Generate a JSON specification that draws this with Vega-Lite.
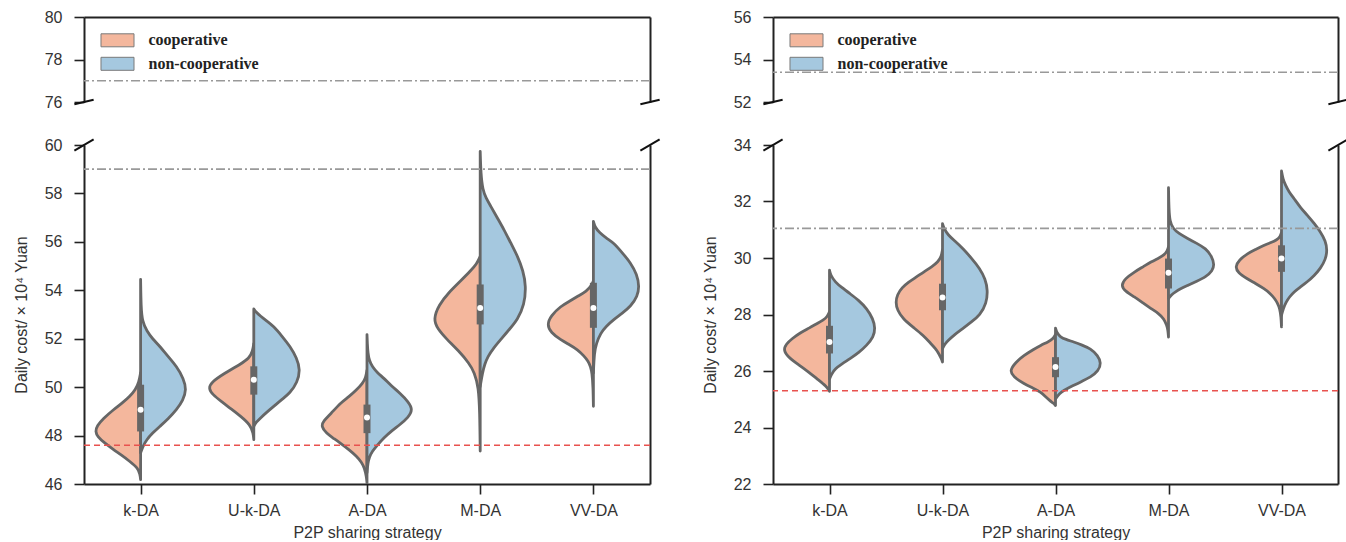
{
"$schema": "https://vega.github.io/schema/vega-lite/v6.json",
"padding": {"left": 13, "top": 9, "right": 5, "bottom": 0},
"background": "white",
"data": {"values": [{}]},
"datasets": {
"vl": [
{"s":"k-DA","g":"cooperative","y":46.18,"d":0},{"s":"k-DA","g":"cooperative","y":46.4,"d":0.005},{"s":"k-DA","g":"cooperative","y":46.66,"d":0.025},{"s":"k-DA","g":"cooperative","y":46.93,"d":0.094},{"s":"k-DA","g":"cooperative","y":47.2,"d":0.17},{"s":"k-DA","g":"cooperative","y":47.42,"d":0.24},{"s":"k-DA","g":"cooperative","y":47.7,"d":0.32},{"s":"k-DA","g":"cooperative","y":47.95,"d":0.38},{"s":"k-DA","g":"cooperative","y":48.17,"d":0.4},{"s":"k-DA","g":"cooperative","y":48.4,"d":0.385},{"s":"k-DA","g":"cooperative","y":48.7,"d":0.33},{"s":"k-DA","g":"cooperative","y":49.07,"d":0.24},{"s":"k-DA","g":"cooperative","y":49.35,"d":0.16},{"s":"k-DA","g":"cooperative","y":49.62,"d":0.094},{"s":"k-DA","g":"cooperative","y":49.9,"d":0.045},{"s":"k-DA","g":"cooperative","y":50.2,"d":0.015},{"s":"k-DA","g":"cooperative","y":50.6,"d":0},
{"s":"k-DA","g":"non-cooperative","y":47.28,"d":0},{"s":"k-DA","g":"non-cooperative","y":47.55,"d":0.02},{"s":"k-DA","g":"non-cooperative","y":47.83,"d":0.053},{"s":"k-DA","g":"non-cooperative","y":48.1,"d":0.105},{"s":"k-DA","g":"non-cooperative","y":48.38,"d":0.17},{"s":"k-DA","g":"non-cooperative","y":48.7,"d":0.245},{"s":"k-DA","g":"non-cooperative","y":49.07,"d":0.318},{"s":"k-DA","g":"non-cooperative","y":49.45,"d":0.375},{"s":"k-DA","g":"non-cooperative","y":49.9,"d":0.405},{"s":"k-DA","g":"non-cooperative","y":50.35,"d":0.38},{"s":"k-DA","g":"non-cooperative","y":50.86,"d":0.318},{"s":"k-DA","g":"non-cooperative","y":51.25,"d":0.245},{"s":"k-DA","g":"non-cooperative","y":51.69,"d":0.17},{"s":"k-DA","g":"non-cooperative","y":52.0,"d":0.105},{"s":"k-DA","g":"non-cooperative","y":52.31,"d":0.055},{"s":"k-DA","g":"non-cooperative","y":52.72,"d":0.015},{"s":"k-DA","g":"non-cooperative","y":53.3,"d":0.004},{"s":"k-DA","g":"non-cooperative","y":54.45,"d":0},
{"s":"U-k-DA","g":"cooperative","y":47.83,"d":0},{"s":"U-k-DA","g":"cooperative","y":48.1,"d":0.005},{"s":"U-k-DA","g":"cooperative","y":48.44,"d":0.03},{"s":"U-k-DA","g":"cooperative","y":48.8,"d":0.117},{"s":"U-k-DA","g":"cooperative","y":49.1,"d":0.2},{"s":"U-k-DA","g":"cooperative","y":49.4,"d":0.285},{"s":"U-k-DA","g":"cooperative","y":49.7,"d":0.365},{"s":"U-k-DA","g":"cooperative","y":49.95,"d":0.4},{"s":"U-k-DA","g":"cooperative","y":50.2,"d":0.375},{"s":"U-k-DA","g":"cooperative","y":50.57,"d":0.26},{"s":"U-k-DA","g":"cooperative","y":50.95,"d":0.117},{"s":"U-k-DA","g":"cooperative","y":51.19,"d":0.04},{"s":"U-k-DA","g":"cooperative","y":51.5,"d":0.01},{"s":"U-k-DA","g":"cooperative","y":51.8,"d":0},
{"s":"U-k-DA","g":"non-cooperative","y":48.38,"d":0},{"s":"U-k-DA","g":"non-cooperative","y":48.55,"d":0.02},{"s":"U-k-DA","g":"non-cooperative","y":48.73,"d":0.06},{"s":"U-k-DA","g":"non-cooperative","y":48.97,"d":0.115},{"s":"U-k-DA","g":"non-cooperative","y":49.21,"d":0.177},{"s":"U-k-DA","g":"non-cooperative","y":49.5,"d":0.25},{"s":"U-k-DA","g":"non-cooperative","y":49.76,"d":0.32},{"s":"U-k-DA","g":"non-cooperative","y":50.2,"d":0.385},{"s":"U-k-DA","g":"non-cooperative","y":50.72,"d":0.41},{"s":"U-k-DA","g":"non-cooperative","y":51.2,"d":0.38},{"s":"U-k-DA","g":"non-cooperative","y":51.69,"d":0.32},{"s":"U-k-DA","g":"non-cooperative","y":52.1,"d":0.25},{"s":"U-k-DA","g":"non-cooperative","y":52.51,"d":0.177},{"s":"U-k-DA","g":"non-cooperative","y":52.75,"d":0.11},{"s":"U-k-DA","g":"non-cooperative","y":52.93,"d":0.06},{"s":"U-k-DA","g":"non-cooperative","y":53.1,"d":0.02},{"s":"U-k-DA","g":"non-cooperative","y":53.23,"d":0},
{"s":"A-DA","g":"cooperative","y":46.04,"d":0},{"s":"A-DA","g":"cooperative","y":46.3,"d":0.005},{"s":"A-DA","g":"cooperative","y":46.66,"d":0.022},{"s":"A-DA","g":"cooperative","y":46.9,"d":0.048},{"s":"A-DA","g":"cooperative","y":47.14,"d":0.09},{"s":"A-DA","g":"cooperative","y":47.42,"d":0.16},{"s":"A-DA","g":"cooperative","y":47.69,"d":0.235},{"s":"A-DA","g":"cooperative","y":47.9,"d":0.3},{"s":"A-DA","g":"cooperative","y":48.1,"d":0.36},{"s":"A-DA","g":"cooperative","y":48.38,"d":0.405},{"s":"A-DA","g":"cooperative","y":48.6,"d":0.385},{"s":"A-DA","g":"cooperative","y":48.9,"d":0.32},{"s":"A-DA","g":"cooperative","y":49.35,"d":0.235},{"s":"A-DA","g":"cooperative","y":49.6,"d":0.16},{"s":"A-DA","g":"cooperative","y":49.9,"d":0.09},{"s":"A-DA","g":"cooperative","y":50.15,"d":0.04},{"s":"A-DA","g":"cooperative","y":50.38,"d":0.012},{"s":"A-DA","g":"cooperative","y":50.7,"d":0},
{"s":"A-DA","g":"non-cooperative","y":46.47,"d":0},{"s":"A-DA","g":"non-cooperative","y":46.87,"d":0.008},{"s":"A-DA","g":"non-cooperative","y":47.1,"d":0.02},{"s":"A-DA","g":"non-cooperative","y":47.35,"d":0.046},{"s":"A-DA","g":"non-cooperative","y":47.6,"d":0.09},{"s":"A-DA","g":"non-cooperative","y":47.9,"d":0.147},{"s":"A-DA","g":"non-cooperative","y":48.2,"d":0.22},{"s":"A-DA","g":"non-cooperative","y":48.45,"d":0.29},{"s":"A-DA","g":"non-cooperative","y":48.75,"d":0.365},{"s":"A-DA","g":"non-cooperative","y":49.07,"d":0.405},{"s":"A-DA","g":"non-cooperative","y":49.4,"d":0.365},{"s":"A-DA","g":"non-cooperative","y":49.76,"d":0.29},{"s":"A-DA","g":"non-cooperative","y":50.05,"d":0.215},{"s":"A-DA","g":"non-cooperative","y":50.38,"d":0.147},{"s":"A-DA","g":"non-cooperative","y":50.6,"d":0.09},{"s":"A-DA","g":"non-cooperative","y":50.86,"d":0.046},{"s":"A-DA","g":"non-cooperative","y":51.1,"d":0.02},{"s":"A-DA","g":"non-cooperative","y":51.41,"d":0.008},{"s":"A-DA","g":"non-cooperative","y":51.8,"d":0.003},{"s":"A-DA","g":"non-cooperative","y":52.17,"d":0},
{"s":"M-DA","g":"cooperative","y":47.36,"d":0},{"s":"M-DA","g":"cooperative","y":49.0,"d":0.004},{"s":"M-DA","g":"cooperative","y":50.0,"d":0.015},{"s":"M-DA","g":"cooperative","y":50.6,"d":0.05},{"s":"M-DA","g":"cooperative","y":51.0,"d":0.1},{"s":"M-DA","g":"cooperative","y":51.5,"d":0.19},{"s":"M-DA","g":"cooperative","y":52.0,"d":0.3},{"s":"M-DA","g":"cooperative","y":52.4,"d":0.375},{"s":"M-DA","g":"cooperative","y":52.8,"d":0.415},{"s":"M-DA","g":"cooperative","y":53.4,"d":0.365},{"s":"M-DA","g":"cooperative","y":53.9,"d":0.28},{"s":"M-DA","g":"cooperative","y":54.4,"d":0.17},{"s":"M-DA","g":"cooperative","y":54.8,"d":0.085},{"s":"M-DA","g":"cooperative","y":55.1,"d":0.03},{"s":"M-DA","g":"cooperative","y":55.4,"d":0},
{"s":"M-DA","g":"non-cooperative","y":50.03,"d":0},{"s":"M-DA","g":"non-cooperative","y":50.59,"d":0.02},{"s":"M-DA","g":"non-cooperative","y":50.95,"d":0.04},{"s":"M-DA","g":"non-cooperative","y":51.27,"d":0.068},{"s":"M-DA","g":"non-cooperative","y":51.6,"d":0.115},{"s":"M-DA","g":"non-cooperative","y":51.96,"d":0.18},{"s":"M-DA","g":"non-cooperative","y":52.4,"d":0.26},{"s":"M-DA","g":"non-cooperative","y":52.79,"d":0.33},{"s":"M-DA","g":"non-cooperative","y":53.4,"d":0.39},{"s":"M-DA","g":"non-cooperative","y":54.17,"d":0.405},{"s":"M-DA","g":"non-cooperative","y":54.8,"d":0.38},{"s":"M-DA","g":"non-cooperative","y":55.41,"d":0.33},{"s":"M-DA","g":"non-cooperative","y":55.95,"d":0.27},{"s":"M-DA","g":"non-cooperative","y":56.51,"d":0.21},{"s":"M-DA","g":"non-cooperative","y":57.0,"d":0.15},{"s":"M-DA","g":"non-cooperative","y":57.47,"d":0.094},{"s":"M-DA","g":"non-cooperative","y":57.8,"d":0.052},{"s":"M-DA","g":"non-cooperative","y":58.16,"d":0.022},{"s":"M-DA","g":"non-cooperative","y":58.8,"d":0.006},{"s":"M-DA","g":"non-cooperative","y":59.74,"d":0},
{"s":"VV-DA","g":"cooperative","y":49.21,"d":0},{"s":"VV-DA","g":"cooperative","y":50.0,"d":0.003},{"s":"VV-DA","g":"cooperative","y":50.59,"d":0.012},{"s":"VV-DA","g":"cooperative","y":50.85,"d":0.025},{"s":"VV-DA","g":"cooperative","y":51.07,"d":0.045},{"s":"VV-DA","g":"cooperative","y":51.3,"d":0.085},{"s":"VV-DA","g":"cooperative","y":51.55,"d":0.14},{"s":"VV-DA","g":"cooperative","y":51.75,"d":0.21},{"s":"VV-DA","g":"cooperative","y":51.96,"d":0.29},{"s":"VV-DA","g":"cooperative","y":52.25,"d":0.375},{"s":"VV-DA","g":"cooperative","y":52.58,"d":0.41},{"s":"VV-DA","g":"cooperative","y":52.95,"d":0.375},{"s":"VV-DA","g":"cooperative","y":53.34,"d":0.29},{"s":"VV-DA","g":"cooperative","y":53.55,"d":0.21},{"s":"VV-DA","g":"cooperative","y":53.75,"d":0.14},{"s":"VV-DA","g":"cooperative","y":53.96,"d":0.06},{"s":"VV-DA","g":"cooperative","y":54.2,"d":0.015},{"s":"VV-DA","g":"cooperative","y":54.4,"d":0},
{"s":"VV-DA","g":"non-cooperative","y":50.59,"d":0},{"s":"VV-DA","g":"non-cooperative","y":51.41,"d":0.008},{"s":"VV-DA","g":"non-cooperative","y":51.8,"d":0.025},{"s":"VV-DA","g":"non-cooperative","y":52.24,"d":0.065},{"s":"VV-DA","g":"non-cooperative","y":52.5,"d":0.11},{"s":"VV-DA","g":"non-cooperative","y":52.79,"d":0.18},{"s":"VV-DA","g":"non-cooperative","y":53.05,"d":0.255},{"s":"VV-DA","g":"non-cooperative","y":53.34,"d":0.33},{"s":"VV-DA","g":"non-cooperative","y":53.75,"d":0.39},{"s":"VV-DA","g":"non-cooperative","y":54.17,"d":0.405},{"s":"VV-DA","g":"non-cooperative","y":54.65,"d":0.385},{"s":"VV-DA","g":"non-cooperative","y":55.13,"d":0.33},{"s":"VV-DA","g":"non-cooperative","y":55.55,"d":0.255},{"s":"VV-DA","g":"non-cooperative","y":55.96,"d":0.18},{"s":"VV-DA","g":"non-cooperative","y":56.15,"d":0.115},{"s":"VV-DA","g":"non-cooperative","y":56.37,"d":0.055},{"s":"VV-DA","g":"non-cooperative","y":56.6,"d":0.015},{"s":"VV-DA","g":"non-cooperative","y":56.85,"d":0}
],
"vr": [
{"s":"k-DA","g":"cooperative","y":25.28,"d":0},{"s":"k-DA","g":"cooperative","y":25.45,"d":0.025},{"s":"k-DA","g":"cooperative","y":25.72,"d":0.11},{"s":"k-DA","g":"cooperative","y":25.95,"d":0.18},{"s":"k-DA","g":"cooperative","y":26.2,"d":0.265},{"s":"k-DA","g":"cooperative","y":26.45,"d":0.355},{"s":"k-DA","g":"cooperative","y":26.73,"d":0.41},{"s":"k-DA","g":"cooperative","y":26.95,"d":0.385},{"s":"k-DA","g":"cooperative","y":27.15,"d":0.33},{"s":"k-DA","g":"cooperative","y":27.35,"d":0.26},{"s":"k-DA","g":"cooperative","y":27.52,"d":0.18},{"s":"k-DA","g":"cooperative","y":27.68,"d":0.11},{"s":"k-DA","g":"cooperative","y":27.8,"d":0.055},{"s":"k-DA","g":"cooperative","y":27.92,"d":0.02},{"s":"k-DA","g":"cooperative","y":28.1,"d":0},
{"s":"k-DA","g":"non-cooperative","y":25.72,"d":0},{"s":"k-DA","g":"non-cooperative","y":25.9,"d":0.02},{"s":"k-DA","g":"non-cooperative","y":26.08,"d":0.05},{"s":"k-DA","g":"non-cooperative","y":26.25,"d":0.11},{"s":"k-DA","g":"non-cooperative","y":26.43,"d":0.18},{"s":"k-DA","g":"non-cooperative","y":26.65,"d":0.26},{"s":"k-DA","g":"non-cooperative","y":26.91,"d":0.33},{"s":"k-DA","g":"non-cooperative","y":27.2,"d":0.39},{"s":"k-DA","g":"non-cooperative","y":27.52,"d":0.405},{"s":"k-DA","g":"non-cooperative","y":27.85,"d":0.385},{"s":"k-DA","g":"non-cooperative","y":28.21,"d":0.33},{"s":"k-DA","g":"non-cooperative","y":28.5,"d":0.26},{"s":"k-DA","g":"non-cooperative","y":28.74,"d":0.18},{"s":"k-DA","g":"non-cooperative","y":28.95,"d":0.11},{"s":"k-DA","g":"non-cooperative","y":29.15,"d":0.05},{"s":"k-DA","g":"non-cooperative","y":29.39,"d":0.01},{"s":"k-DA","g":"non-cooperative","y":29.57,"d":0},
{"s":"U-k-DA","g":"cooperative","y":26.32,"d":0},{"s":"U-k-DA","g":"cooperative","y":26.43,"d":0.01},{"s":"U-k-DA","g":"cooperative","y":26.6,"d":0.03},{"s":"U-k-DA","g":"cooperative","y":26.79,"d":0.06},{"s":"U-k-DA","g":"cooperative","y":27.0,"d":0.11},{"s":"U-k-DA","g":"cooperative","y":27.26,"d":0.17},{"s":"U-k-DA","g":"cooperative","y":27.55,"d":0.26},{"s":"U-k-DA","g":"cooperative","y":27.85,"d":0.35},{"s":"U-k-DA","g":"cooperative","y":28.15,"d":0.4},{"s":"U-k-DA","g":"cooperative","y":28.44,"d":0.415},{"s":"U-k-DA","g":"cooperative","y":28.7,"d":0.4},{"s":"U-k-DA","g":"cooperative","y":28.95,"d":0.36},{"s":"U-k-DA","g":"cooperative","y":29.15,"d":0.3},{"s":"U-k-DA","g":"cooperative","y":29.33,"d":0.23},{"s":"U-k-DA","g":"cooperative","y":29.51,"d":0.165},{"s":"U-k-DA","g":"cooperative","y":29.7,"d":0.09},{"s":"U-k-DA","g":"cooperative","y":29.86,"d":0.04},{"s":"U-k-DA","g":"cooperative","y":30.05,"d":0.01},{"s":"U-k-DA","g":"cooperative","y":30.3,"d":0},
{"s":"U-k-DA","g":"non-cooperative","y":26.79,"d":0},{"s":"U-k-DA","g":"non-cooperative","y":26.95,"d":0.02},{"s":"U-k-DA","g":"non-cooperative","y":27.08,"d":0.05},{"s":"U-k-DA","g":"non-cooperative","y":27.3,"d":0.11},{"s":"U-k-DA","g":"non-cooperative","y":27.5,"d":0.18},{"s":"U-k-DA","g":"non-cooperative","y":27.75,"d":0.26},{"s":"U-k-DA","g":"non-cooperative","y":27.97,"d":0.33},{"s":"U-k-DA","g":"non-cooperative","y":28.4,"d":0.39},{"s":"U-k-DA","g":"non-cooperative","y":28.86,"d":0.4},{"s":"U-k-DA","g":"non-cooperative","y":29.25,"d":0.38},{"s":"U-k-DA","g":"non-cooperative","y":29.63,"d":0.33},{"s":"U-k-DA","g":"non-cooperative","y":30.0,"d":0.255},{"s":"U-k-DA","g":"non-cooperative","y":30.34,"d":0.18},{"s":"U-k-DA","g":"non-cooperative","y":30.6,"d":0.11},{"s":"U-k-DA","g":"non-cooperative","y":30.81,"d":0.05},{"s":"U-k-DA","g":"non-cooperative","y":31.05,"d":0.012},{"s":"U-k-DA","g":"non-cooperative","y":31.22,"d":0},
{"s":"A-DA","g":"cooperative","y":24.78,"d":0},{"s":"A-DA","g":"cooperative","y":24.87,"d":0.02},{"s":"A-DA","g":"cooperative","y":24.95,"d":0.05},{"s":"A-DA","g":"cooperative","y":25.1,"d":0.09},{"s":"A-DA","g":"cooperative","y":25.25,"d":0.13},{"s":"A-DA","g":"cooperative","y":25.4,"d":0.2},{"s":"A-DA","g":"cooperative","y":25.55,"d":0.28},{"s":"A-DA","g":"cooperative","y":25.8,"d":0.375},{"s":"A-DA","g":"cooperative","y":26.02,"d":0.405},{"s":"A-DA","g":"cooperative","y":26.3,"d":0.355},{"s":"A-DA","g":"cooperative","y":26.55,"d":0.28},{"s":"A-DA","g":"cooperative","y":26.75,"d":0.2},{"s":"A-DA","g":"cooperative","y":26.91,"d":0.13},{"s":"A-DA","g":"cooperative","y":27.03,"d":0.065},{"s":"A-DA","g":"cooperative","y":27.14,"d":0.02},{"s":"A-DA","g":"cooperative","y":27.3,"d":0},
{"s":"A-DA","g":"non-cooperative","y":25.01,"d":0},{"s":"A-DA","g":"non-cooperative","y":25.13,"d":0.02},{"s":"A-DA","g":"non-cooperative","y":25.25,"d":0.05},{"s":"A-DA","g":"non-cooperative","y":25.37,"d":0.1},{"s":"A-DA","g":"non-cooperative","y":25.49,"d":0.16},{"s":"A-DA","g":"non-cooperative","y":25.63,"d":0.23},{"s":"A-DA","g":"non-cooperative","y":25.78,"d":0.31},{"s":"A-DA","g":"non-cooperative","y":26.0,"d":0.38},{"s":"A-DA","g":"non-cooperative","y":26.28,"d":0.405},{"s":"A-DA","g":"non-cooperative","y":26.55,"d":0.375},{"s":"A-DA","g":"non-cooperative","y":26.79,"d":0.31},{"s":"A-DA","g":"non-cooperative","y":26.92,"d":0.235},{"s":"A-DA","g":"non-cooperative","y":27.03,"d":0.16},{"s":"A-DA","g":"non-cooperative","y":27.12,"d":0.09},{"s":"A-DA","g":"non-cooperative","y":27.2,"d":0.044},{"s":"A-DA","g":"non-cooperative","y":27.35,"d":0.012},{"s":"A-DA","g":"non-cooperative","y":27.52,"d":0},
{"s":"M-DA","g":"cooperative","y":27.2,"d":0},{"s":"M-DA","g":"cooperative","y":27.45,"d":0.005},{"s":"M-DA","g":"cooperative","y":27.61,"d":0.015},{"s":"M-DA","g":"cooperative","y":27.85,"d":0.04},{"s":"M-DA","g":"cooperative","y":28.05,"d":0.09},{"s":"M-DA","g":"cooperative","y":28.21,"d":0.156},{"s":"M-DA","g":"cooperative","y":28.42,"d":0.23},{"s":"M-DA","g":"cooperative","y":28.62,"d":0.3},{"s":"M-DA","g":"cooperative","y":28.83,"d":0.385},{"s":"M-DA","g":"cooperative","y":29.03,"d":0.42},{"s":"M-DA","g":"cooperative","y":29.27,"d":0.385},{"s":"M-DA","g":"cooperative","y":29.51,"d":0.3},{"s":"M-DA","g":"cooperative","y":29.7,"d":0.22},{"s":"M-DA","g":"cooperative","y":29.86,"d":0.156},{"s":"M-DA","g":"cooperative","y":30.0,"d":0.085},{"s":"M-DA","g":"cooperative","y":30.1,"d":0.04},{"s":"M-DA","g":"cooperative","y":30.25,"d":0.01},{"s":"M-DA","g":"cooperative","y":30.4,"d":0},
{"s":"M-DA","g":"non-cooperative","y":28.56,"d":0},{"s":"M-DA","g":"non-cooperative","y":28.7,"d":0.025},{"s":"M-DA","g":"non-cooperative","y":28.8,"d":0.06},{"s":"M-DA","g":"non-cooperative","y":28.92,"d":0.11},{"s":"M-DA","g":"non-cooperative","y":29.03,"d":0.17},{"s":"M-DA","g":"non-cooperative","y":29.18,"d":0.25},{"s":"M-DA","g":"non-cooperative","y":29.33,"d":0.33},{"s":"M-DA","g":"non-cooperative","y":29.55,"d":0.39},{"s":"M-DA","g":"non-cooperative","y":29.77,"d":0.405},{"s":"M-DA","g":"non-cooperative","y":30.05,"d":0.385},{"s":"M-DA","g":"non-cooperative","y":30.34,"d":0.33},{"s":"M-DA","g":"non-cooperative","y":30.52,"d":0.25},{"s":"M-DA","g":"non-cooperative","y":30.69,"d":0.17},{"s":"M-DA","g":"non-cooperative","y":30.87,"d":0.09},{"s":"M-DA","g":"non-cooperative","y":31.05,"d":0.038},{"s":"M-DA","g":"non-cooperative","y":31.3,"d":0.012},{"s":"M-DA","g":"non-cooperative","y":31.7,"d":0.004},{"s":"M-DA","g":"non-cooperative","y":32.49,"d":0},
{"s":"VV-DA","g":"cooperative","y":27.56,"d":0},{"s":"VV-DA","g":"cooperative","y":27.9,"d":0.004},{"s":"VV-DA","g":"cooperative","y":28.21,"d":0.015},{"s":"VV-DA","g":"cooperative","y":28.4,"d":0.035},{"s":"VV-DA","g":"cooperative","y":28.56,"d":0.06},{"s":"VV-DA","g":"cooperative","y":28.75,"d":0.1},{"s":"VV-DA","g":"cooperative","y":28.92,"d":0.156},{"s":"VV-DA","g":"cooperative","y":29.1,"d":0.23},{"s":"VV-DA","g":"cooperative","y":29.27,"d":0.305},{"s":"VV-DA","g":"cooperative","y":29.48,"d":0.385},{"s":"VV-DA","g":"cooperative","y":29.69,"d":0.41},{"s":"VV-DA","g":"cooperative","y":29.93,"d":0.375},{"s":"VV-DA","g":"cooperative","y":30.16,"d":0.3},{"s":"VV-DA","g":"cooperative","y":30.3,"d":0.23},{"s":"VV-DA","g":"cooperative","y":30.45,"d":0.156},{"s":"VV-DA","g":"cooperative","y":30.55,"d":0.09},{"s":"VV-DA","g":"cooperative","y":30.63,"d":0.045},{"s":"VV-DA","g":"cooperative","y":30.75,"d":0.012},{"s":"VV-DA","g":"cooperative","y":30.9,"d":0},
{"s":"VV-DA","g":"non-cooperative","y":27.97,"d":0},{"s":"VV-DA","g":"non-cooperative","y":28.2,"d":0.015},{"s":"VV-DA","g":"non-cooperative","y":28.44,"d":0.04},{"s":"VV-DA","g":"non-cooperative","y":28.62,"d":0.07},{"s":"VV-DA","g":"non-cooperative","y":28.8,"d":0.11},{"s":"VV-DA","g":"non-cooperative","y":28.97,"d":0.165},{"s":"VV-DA","g":"non-cooperative","y":29.15,"d":0.227},{"s":"VV-DA","g":"non-cooperative","y":29.38,"d":0.29},{"s":"VV-DA","g":"non-cooperative","y":29.63,"d":0.345},{"s":"VV-DA","g":"non-cooperative","y":29.95,"d":0.39},{"s":"VV-DA","g":"non-cooperative","y":30.28,"d":0.405},{"s":"VV-DA","g":"non-cooperative","y":30.6,"d":0.39},{"s":"VV-DA","g":"non-cooperative","y":30.93,"d":0.345},{"s":"VV-DA","g":"non-cooperative","y":31.22,"d":0.29},{"s":"VV-DA","g":"non-cooperative","y":31.52,"d":0.227},{"s":"VV-DA","g":"non-cooperative","y":31.8,"d":0.165},{"s":"VV-DA","g":"non-cooperative","y":32.11,"d":0.11},{"s":"VV-DA","g":"non-cooperative","y":32.35,"d":0.065},{"s":"VV-DA","g":"non-cooperative","y":32.58,"d":0.035},{"s":"VV-DA","g":"non-cooperative","y":32.8,"d":0.012},{"s":"VV-DA","g":"non-cooperative","y":33.08,"d":0}
],
"bl": [
{"s":"k-DA","q1":48.17,"med":49.07,"q3":50.1},
{"s":"U-k-DA","q1":49.69,"med":50.31,"q3":50.86},
{"s":"A-DA","q1":48.1,"med":48.75,"q3":49.28},
{"s":"M-DA","q1":52.59,"med":53.27,"q3":54.24},
{"s":"VV-DA","q1":52.45,"med":53.27,"q3":54.31}
],
"br": [
{"s":"k-DA","q1":26.62,"med":27.03,"q3":27.6},
{"s":"U-k-DA","q1":28.15,"med":28.6,"q3":29.09},
{"s":"A-DA","q1":25.78,"med":26.14,"q3":26.49},
{"s":"M-DA","q1":28.92,"med":29.48,"q3":29.98},
{"s":"VV-DA","q1":29.51,"med":29.98,"q3":30.45}
]
},
"config": {
"view": {"stroke": null},
"font": "Liberation Sans",
"axis": {"grid": false, "domainColor": "#222222", "domainWidth": 2, "tickColor": "#222222", "tickWidth": 1.6, "tickSize": 10, "labelFont": "Liberation Sans", "labelFontSize": 16, "labelColor": "#333333", "labelFlush": false, "titleFont": "Liberation Sans", "titleFontSize": 16, "titleFontWeight": "normal", "titleColor": "#333333"},
"axisY": {"labelPadding": 12, "titlePadding": 15},
"axisX": {"labelPadding": 8, "titlePadding": 6}
},
"spacing": 41,
"bounds": "full",
"resolve": {"scale": {"fill": "independent"}},
"hconcat": [
{
"vconcat": [
{
"width": 566, "height": 85,
"layer": [
{"mark": {"type": "rule", "color": "#999999", "strokeWidth": 1.7, "strokeDash": [9, 3, 2, 3]},
 "encoding": {"y": {"datum": 77, "type": "quantitative", "scale": {"domain": [76, 80], "nice": false, "zero": false}, "axis": {"orient": "left", "values": [76, 78, 80], "title": null}}}},
{"data": {"values": [{"g": "cooperative"}, {"g": "non-cooperative"}]},
 "mark": {"type": "square", "opacity": 0, "clip": true},
 "encoding": {
  "x": {"datum": 3, "type": "quantitative", "scale": {"domain": [0.5, 5.5], "nice": false, "zero": false}, "axis": {"orient": "top", "labels": false, "ticks": false, "title": null}},
  "y": {"datum": 70, "type": "quantitative", "axis": {"orient": "right", "labels": false, "ticks": false, "title": null}},
  "fill": {"field": "g", "type": "nominal", "scale": {"domain": ["cooperative", "non-cooperative"], "range": ["#F4B79D", "#A5C8DF"]},
   "legend": {"orient": "none", "legendX": 21.5, "legendY": 11.3, "title": null, "symbolType": "M-1.435,-0.565H1.435V0.565H-1.435Z", "symbolSize": 529, "symbolStrokeColor": "#7a7a7a", "symbolStrokeWidth": 1, "symbolOpacity": 1, "labelFont": "Liberation Serif", "labelFontWeight": "bold", "labelFontSize": 16, "labelColor": "#222222", "labelOffset": 19, "rowPadding": 2.5, "padding": 0}}
 }},
{"mark": {"type": "rule", "color": "#111111", "strokeWidth": 2, "clip": false},
 "encoding": {"x": {"datum": 0.415, "type": "quantitative", "axis": null}, "x2": {"datum": 0.585}, "y": {"datum": 75.89, "type": "quantitative", "axis": null}, "y2": {"datum": 76.11}}},
{"mark": {"type": "rule", "color": "#111111", "strokeWidth": 2, "clip": false},
 "encoding": {"x": {"datum": 5.415, "type": "quantitative", "axis": null}, "x2": {"datum": 5.585}, "y": {"datum": 75.89, "type": "quantitative", "axis": null}, "y2": {"datum": 76.11}}}
],
"resolve": {"axis": {"x": "independent", "y": "independent"}}
},
{
"width": 566, "height": 339,
"layer": [
{"data": {"name": "vl"},
 "transform": [
  {"calculate": "indexof(['k-DA','U-k-DA','A-DA','M-DA','VV-DA'], datum.s) + 1", "as": "idx"},
  {"calculate": "datum.g === 'cooperative' ? datum.idx - datum.d : datum.idx + datum.d", "as": "edge"}
 ],
 "mark": {"type": "area", "orient": "horizontal", "interpolate": "basis", "stroke": "#666666", "strokeWidth": 2.8, "strokeJoin": "round", "clip": true},
 "encoding": {
  "y": {"field": "y", "type": "quantitative", "scale": {"domain": [46, 60], "nice": false, "zero": false}, "axis": {"orient": "left", "values": [46, 48, 50, 52, 54, 56, 58, 60], "title": "Daily cost/ × 10⁴ Yuan"}},
  "x": {"field": "edge", "type": "quantitative", "scale": {"domain": [0.5, 5.5], "nice": false, "zero": false}, "axis": {"orient": "bottom", "values": [1, 2, 3, 4, 5], "labelExpr": "['k-DA','U-k-DA','A-DA','M-DA','VV-DA'][datum.value - 1]", "title": "P2P sharing strategy"}},
  "x2": {"field": "idx"},
  "fill": {"field": "g", "type": "nominal", "scale": {"domain": ["cooperative", "non-cooperative"], "range": ["#F4B79D", "#A5C8DF"]}, "legend": null},
  "detail": {"field": "s", "type": "nominal"}
 }},
{"data": {"name": "bl"},
 "transform": [{"calculate": "indexof(['k-DA','U-k-DA','A-DA','M-DA','VV-DA'], datum.s) + 1", "as": "idx"}],
 "mark": {"type": "rule", "color": "#666666", "strokeWidth": 7},
 "encoding": {"x": {"field": "idx", "type": "quantitative", "axis": null}, "y": {"field": "q1", "type": "quantitative", "axis": null}, "y2": {"field": "q3"}}},
{"data": {"name": "bl"},
 "transform": [{"calculate": "indexof(['k-DA','U-k-DA','A-DA','M-DA','VV-DA'], datum.s) + 1", "as": "idx"}],
 "mark": {"type": "circle", "color": "white", "size": 36, "opacity": 1},
 "encoding": {"x": {"field": "idx", "type": "quantitative", "axis": null}, "y": {"field": "med", "type": "quantitative", "axis": null}}},
{"mark": {"type": "rule", "color": "#999999", "strokeWidth": 1.7, "strokeDash": [9, 3, 2, 3]},
 "encoding": {"y": {"datum": 59, "type": "quantitative", "axis": null}}},
{"mark": {"type": "rule", "color": "#e8524f", "strokeWidth": 1.6, "strokeDash": [6, 4]},
 "encoding": {"y": {"datum": 47.6, "type": "quantitative", "axis": {"orient": "right", "labels": false, "ticks": false, "title": null}}}},
{"mark": {"type": "rule", "color": "#111111", "strokeWidth": 2, "clip": false},
 "encoding": {"x": {"datum": 0.415, "type": "quantitative", "axis": null}, "x2": {"datum": 0.585}, "y": {"datum": 59.765, "type": "quantitative", "axis": null}, "y2": {"datum": 60.235}}},
{"mark": {"type": "rule", "color": "#111111", "strokeWidth": 2, "clip": false},
 "encoding": {"x": {"datum": 5.415, "type": "quantitative", "axis": null}, "x2": {"datum": 5.585}, "y": {"datum": 59.765, "type": "quantitative", "axis": null}, "y2": {"datum": 60.235}}}
],
"resolve": {"axis": {"x": "independent", "y": "independent"}}
}
],
"spacing": 43,
"bounds": "flush",
"resolve": {"scale": {"fill": "independent"}}
},
{
"vconcat": [
{
"width": 565, "height": 85,
"layer": [
{"mark": {"type": "rule", "color": "#999999", "strokeWidth": 1.7, "strokeDash": [9, 3, 2, 3]},
 "encoding": {"y": {"datum": 53.4, "type": "quantitative", "scale": {"domain": [52, 56], "nice": false, "zero": false}, "axis": {"orient": "left", "values": [52, 54, 56], "title": null}}}},
{"data": {"values": [{"g": "cooperative"}, {"g": "non-cooperative"}]},
 "mark": {"type": "square", "opacity": 0, "clip": true},
 "encoding": {
  "x": {"datum": 3, "type": "quantitative", "scale": {"domain": [0.5, 5.5], "nice": false, "zero": false}, "axis": {"orient": "top", "labels": false, "ticks": false, "title": null}},
  "y": {"datum": 40, "type": "quantitative", "axis": {"orient": "right", "labels": false, "ticks": false, "title": null}},
  "fill": {"field": "g", "type": "nominal", "scale": {"domain": ["cooperative", "non-cooperative"], "range": ["#F4B79D", "#A5C8DF"]},
   "legend": {"orient": "none", "legendX": 21.5, "legendY": 11.3, "title": null, "symbolType": "M-1.435,-0.565H1.435V0.565H-1.435Z", "symbolSize": 529, "symbolStrokeColor": "#7a7a7a", "symbolStrokeWidth": 1, "symbolOpacity": 1, "labelFont": "Liberation Serif", "labelFontWeight": "bold", "labelFontSize": 16, "labelColor": "#222222", "labelOffset": 19, "rowPadding": 2.5, "padding": 0}}
 }},
{"mark": {"type": "rule", "color": "#111111", "strokeWidth": 2, "clip": false},
 "encoding": {"x": {"datum": 0.415, "type": "quantitative", "axis": null}, "x2": {"datum": 0.585}, "y": {"datum": 51.89, "type": "quantitative", "axis": null}, "y2": {"datum": 52.11}}},
{"mark": {"type": "rule", "color": "#111111", "strokeWidth": 2, "clip": false},
 "encoding": {"x": {"datum": 5.415, "type": "quantitative", "axis": null}, "x2": {"datum": 5.585}, "y": {"datum": 51.89, "type": "quantitative", "axis": null}, "y2": {"datum": 52.11}}}
],
"resolve": {"axis": {"x": "independent", "y": "independent"}}
},
{
"width": 565, "height": 339,
"layer": [
{"data": {"name": "vr"},
 "transform": [
  {"calculate": "indexof(['k-DA','U-k-DA','A-DA','M-DA','VV-DA'], datum.s) + 1", "as": "idx"},
  {"calculate": "datum.g === 'cooperative' ? datum.idx - datum.d : datum.idx + datum.d", "as": "edge"}
 ],
 "mark": {"type": "area", "orient": "horizontal", "interpolate": "basis", "stroke": "#666666", "strokeWidth": 2.8, "strokeJoin": "round", "clip": true},
 "encoding": {
  "y": {"field": "y", "type": "quantitative", "scale": {"domain": [22, 34], "nice": false, "zero": false}, "axis": {"orient": "left", "values": [22, 24, 26, 28, 30, 32, 34], "title": "Daily cost/ × 10⁴ Yuan"}},
  "x": {"field": "edge", "type": "quantitative", "scale": {"domain": [0.5, 5.5], "nice": false, "zero": false}, "axis": {"orient": "bottom", "values": [1, 2, 3, 4, 5], "labelExpr": "['k-DA','U-k-DA','A-DA','M-DA','VV-DA'][datum.value - 1]", "title": "P2P sharing strategy"}},
  "x2": {"field": "idx"},
  "fill": {"field": "g", "type": "nominal", "scale": {"domain": ["cooperative", "non-cooperative"], "range": ["#F4B79D", "#A5C8DF"]}, "legend": null},
  "detail": {"field": "s", "type": "nominal"}
 }},
{"data": {"name": "br"},
 "transform": [{"calculate": "indexof(['k-DA','U-k-DA','A-DA','M-DA','VV-DA'], datum.s) + 1", "as": "idx"}],
 "mark": {"type": "rule", "color": "#666666", "strokeWidth": 7},
 "encoding": {"x": {"field": "idx", "type": "quantitative", "axis": null}, "y": {"field": "q1", "type": "quantitative", "axis": null}, "y2": {"field": "q3"}}},
{"data": {"name": "br"},
 "transform": [{"calculate": "indexof(['k-DA','U-k-DA','A-DA','M-DA','VV-DA'], datum.s) + 1", "as": "idx"}],
 "mark": {"type": "circle", "color": "white", "size": 36, "opacity": 1},
 "encoding": {"x": {"field": "idx", "type": "quantitative", "axis": null}, "y": {"field": "med", "type": "quantitative", "axis": null}}},
{"mark": {"type": "rule", "color": "#999999", "strokeWidth": 1.7, "strokeDash": [9, 3, 2, 3]},
 "encoding": {"y": {"datum": 31.05, "type": "quantitative", "axis": null}}},
{"mark": {"type": "rule", "color": "#e8524f", "strokeWidth": 1.6, "strokeDash": [6, 4]},
 "encoding": {"y": {"datum": 25.3, "type": "quantitative", "axis": {"orient": "right", "labels": false, "ticks": false, "title": null}}}},
{"mark": {"type": "rule", "color": "#111111", "strokeWidth": 2, "clip": false},
 "encoding": {"x": {"datum": 0.415, "type": "quantitative", "axis": null}, "x2": {"datum": 0.585}, "y": {"datum": 33.8, "type": "quantitative", "axis": null}, "y2": {"datum": 34.2}}},
{"mark": {"type": "rule", "color": "#111111", "strokeWidth": 2, "clip": false},
 "encoding": {"x": {"datum": 5.415, "type": "quantitative", "axis": null}, "x2": {"datum": 5.585}, "y": {"datum": 33.8, "type": "quantitative", "axis": null}, "y2": {"datum": 34.2}}}
],
"resolve": {"axis": {"x": "independent", "y": "independent"}}
}
],
"spacing": 43,
"bounds": "flush",
"resolve": {"scale": {"fill": "independent"}}
}
]
}
